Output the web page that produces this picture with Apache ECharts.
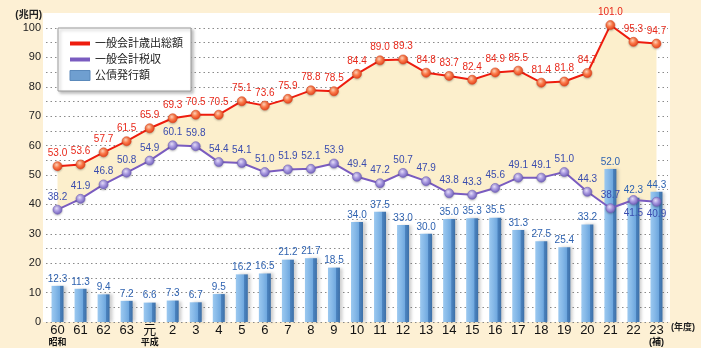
<!DOCTYPE html>
<html>
<head>
<meta charset="utf-8">
<script src="https://cdn.jsdelivr.net/npm/echarts@6/dist/echarts.min.js"></script>
<style>
  html, body { margin: 0; padding: 0; background: #fdf0d4; }
  #chart { width: 701px; height: 348px; }
</style>
</head>
<body>
<div id="chart"></div>
<script>
// 年度 (昭和60年度〜平成23年度)
const categories = ['60','61','62','63','元','2','3','4','5','6','7','8','9','10','11','12','13','14','15','16','17','18','19','20','21','22','23'];
const subLabels  = ['昭和','','','','平成','','','','','','','','','','','','','','','','','','','','','','(補)'];

// 一般会計歳出総額 (兆円)
const expenditure = [53.0,53.6,57.7,61.5,65.9,69.3,70.5,70.5,75.1,73.6,75.9,78.8,78.5,84.4,89.0,89.3,84.8,83.7,82.4,84.9,85.5,81.4,81.8,84.7,101.0,95.3,94.7];
// 一般会計税収 (兆円)
const taxRevenue = [38.2,41.9,46.8,50.8,54.9,60.1,59.8,54.4,54.1,51.0,51.9,52.1,53.9,49.4,47.2,50.7,47.9,43.8,43.3,45.6,49.1,49.1,51.0,44.3,38.7,41.5,40.9];
// 公債発行額 (兆円)
const bondIssue = [12.3,11.3,9.4,7.2,6.6,7.3,6.7,9.5,16.2,16.5,21.2,21.7,18.5,34.0,37.5,33.0,30.0,35.0,35.3,35.5,31.3,27.5,25.4,33.2,52.0,42.3,44.3];

const yTicks = { min: 0, max: 100, step: 5, labelStep: 10 };

const NAME_EXP = '一般会計歳出総額';
const NAME_TAX = '一般会計税収';
const NAME_BOND = '公債発行額';

const FONT = '"Liberation Sans", Arial, "Noto Sans CJK JP", sans-serif';

// tax labels that sit under their points (last two years)
const taxLabelBelow = new Set([25, 26]);

const gap = expenditure.map((v, i) => +(v - taxRevenue[i]).toFixed(1));

const chart = echarts.init(document.getElementById('chart'), null, { renderer: 'canvas' });

const redSymbol = {
  type: 'radial', x: 0.4, y: 0.35, r: 0.7,
  colorStops: [{ offset: 0, color: '#ffd2b8' }, { offset: 0.45, color: '#fb7a4a' }, { offset: 1, color: '#e23a16' }]
};
const purpleSymbol = {
  type: 'radial', x: 0.4, y: 0.35, r: 0.7,
  colorStops: [{ offset: 0, color: '#e6defa' }, { offset: 0.45, color: '#a899e0' }, { offset: 1, color: '#6c5bb6' }]
};
const barFill = {
  type: 'linear', x: 0, y: 0, x2: 1, y2: 0,
  colorStops: [
    { offset: 0, color: '#9cc9f0' },
    { offset: 0.35, color: '#86b9e8' },
    { offset: 0.68, color: '#6ea7de' },
    { offset: 0.7, color: '#4c84c0' },
    { offset: 1, color: '#3d70a8' }
  ]
};

chart.setOption({
  animation: false,
  backgroundColor: '#fdf0d4',
  textStyle: { fontFamily: FONT },
  graphic: [{
    type: 'rect', z: -10, silent: true,
    shape: { x: 43, y: 13, width: 627, height: 309 },
    style: { fill: '#ffffff' }
  }],
  grid: { left: 46, right: 33, top: 28, bottom: 26, containLabel: false },
  legend: {
    left: 58, top: 28, orient: 'vertical',
    backgroundColor: '#ffffff',
    borderColor: '#9a9a9a', borderWidth: 1,
    shadowColor: 'rgba(0,0,0,0.25)', shadowBlur: 3, shadowOffsetX: 2, shadowOffsetY: 2,
    padding: [10, 8, 10, 10],
    itemWidth: 20, itemHeight: 10, itemGap: 5,
    textStyle: { fontSize: 11, color: '#222', fontFamily: FONT },
    data: [
      { name: NAME_EXP, itemStyle: { opacity: 0 }, lineStyle: { width: 4, color: '#ee1c0e' } },
      { name: NAME_TAX, itemStyle: { opacity: 0 }, lineStyle: { width: 4, color: '#7a5cc0' } },
      { name: NAME_BOND, icon: 'rect', itemStyle: { color: '#6f9fd0', borderColor: '#5a88bb', borderWidth: 1 } }
    ]
  },
  xAxis: {
    type: 'category',
    data: categories,
    boundaryGap: true,
    axisLine: { show: false },
    axisTick: { show: false },
    name: '(年度)',
    nameLocation: 'end',
    nameGap: 3,
    nameTextStyle: { fontSize: 9, color: '#222', fontWeight: 'bold', verticalAlign: 'top', padding: [1, 0, 0, 0] },
    axisLabel: {
      margin: 1,
      interval: 0,
      formatter: (v, i) => subLabels[i] ? '{a|' + v + '}\n{b|' + subLabels[i] + '}' : '{a|' + v + '}',
      rich: {
        a: { fontSize: 13, color: '#111', lineHeight: 14, fontFamily: FONT },
        b: { fontSize: 9, color: '#111', fontWeight: 'bold', lineHeight: 11, fontFamily: FONT }
      }
    },
    z: 5
  },
  yAxis: {
    type: 'value',
    min: yTicks.min, max: yTicks.max, interval: yTicks.step,
    name: '(兆円)',
    nameLocation: 'end',
    nameGap: 8,
    nameTextStyle: { fontSize: 10, color: '#222', align: 'right', padding: [0, 4, 0, 0], fontWeight: 'bold' },
    axisLine: { show: false },
    axisTick: { show: false },
    axisLabel: {
      margin: 5, fontSize: 11, color: '#222',
      formatter: v => (v % yTicks.labelStep === 0 ? String(v) : '')
    },
    splitLine: { show: true, lineStyle: { type: [1.5, 3], color: '#8a8a8a', width: 1 } }
  },
  series: [
    {
      name: 'band-base', type: 'line', stack: 'band', data: taxRevenue,
      symbol: 'none', lineStyle: { opacity: 0 }, silent: true, z: 1, legendHoverLink: false
    },
    {
      name: 'band-gap', type: 'line', stack: 'band', data: gap,
      symbol: 'none', lineStyle: { opacity: 0 }, silent: true, z: 1,
      areaStyle: { color: '#fcefcc', opacity: 1 }
    },
    {
      name: NAME_BOND, type: 'bar', data: bondIssue, barWidth: 12, z: 2,
      itemStyle: {
        color: barFill,
        shadowColor: 'rgba(60,60,60,0.25)', shadowBlur: 3, shadowOffsetX: 3, shadowOffsetY: 0
      },
      label: {
        show: true, position: 'top', distance: 2,
        fontSize: 10, color: '#2e62b0', fontFamily: FONT,
        formatter: p => p.value.toFixed(1)
      }
    },
    {
      name: NAME_TAX, type: 'line', data: taxRevenue.map((v, i) => ({
        value: v,
        label: { position: taxLabelBelow.has(i) ? 'bottom' : 'top' }
      })),
      z: 4, clip: false,
      symbol: 'circle', symbolSize: 9,
      lineStyle: { color: '#7a5cc0', width: 2 },
      itemStyle: { color: purpleSymbol, borderColor: '#7463bd', borderWidth: 0.6, shadowColor: 'rgba(0,0,0,0.25)', shadowBlur: 2, shadowOffsetY: 1 },
      label: {
        show: true, distance: 3, fontSize: 10, color: '#3a4cae', fontFamily: FONT,
        formatter: p => p.value.toFixed(1)
      }
    },
    {
      name: NAME_EXP, type: 'line', data: expenditure,
      z: 5, clip: false,
      symbol: 'circle', symbolSize: 9,
      lineStyle: { color: '#ee1c0e', width: 2 },
      itemStyle: { color: redSymbol, borderColor: '#e04a20', borderWidth: 0.6, shadowColor: 'rgba(0,0,0,0.25)', shadowBlur: 2, shadowOffsetY: 1 },
      label: {
        show: true, position: 'top', distance: 3, fontSize: 10, color: '#e8281a', fontFamily: FONT,
        formatter: p => p.value.toFixed(1)
      }
    }
  ]
});
</script>
</body>
</html>
